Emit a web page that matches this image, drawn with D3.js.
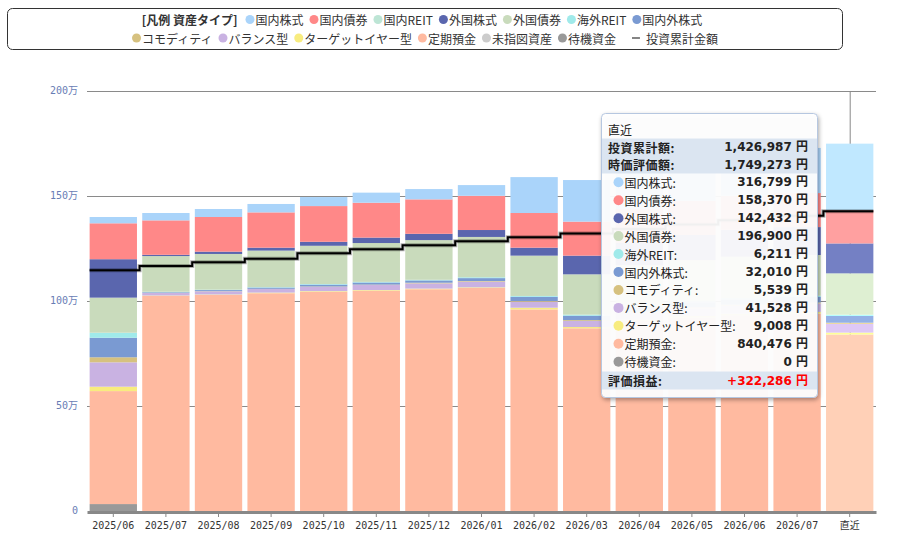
<!DOCTYPE html>
<html>
<head>
<meta charset="utf-8">
<script src="https://cdn.jsdelivr.net/npm/d3@7"></script>
<style>
body { margin: 0; background: #fff; }
svg { display: block; }
</style>
</head>
<body>
<script>
// months on the x axis
var months = ["2025/06","2025/07","2025/08","2025/09","2025/10","2025/11","2025/12",
              "2026/01","2026/02","2026/03","2026/04","2026/05","2026/06","2026/07","直近"];

// asset types (legend order, top of stack first)
var assetNames = ["国内株式","国内債券","国内REIT","外国株式","外国債券","海外REIT","国内外株式",
                  "コモディティ","バランス型","ターゲットイヤー型","定期預金","未指図資産","待機資金"];
var assetColors = ["#aad4fa","#ff8888","#bde5d5","#5a66ae","#c9dbbc","#a0eaea","#7a9ad2",
                   "#d6c17f","#c9b2e2","#f8ec7f","#ffbaa0","#cccccc","#999999"];

// values in yen, one per month
var domesticStock = [30000,35000,38000,40000,43000,48000,49000,51000,171000,198000,210000,213000,216000,215000,316799];
var domesticBond  = [171000,164000,165000,168000,170000,166000,164000,163000,165000,162000,162000,162000,162000,162000,158370];
var domesticReit  = [0,0,0,0,0,0,0,0,0,0,0,0,0,0,0];
var foreignStock  = [183000,6000,11000,14000,19000,26000,30000,33000,38000,89000,105000,120000,128000,133000,142432];
var foreignBond   = [167000,170000,170000,174000,182000,185000,189000,192000,192000,192000,195000,196000,197000,194000,196900];
var foreignReit   = [24000,2000,2000,2000,3000,3000,3000,4000,4000,5000,5000,5000,6000,6000,6211];
var globalStock   = [93000,3000,5000,6000,9000,10000,11000,14000,20000,21000,22000,24000,25000,26000,32010];
var commodity     = [24000,1000,1000,1000,2000,2000,3000,3000,3000,4000,4000,5000,5000,5000,5539];
var balanced      = [116000,12000,15000,17000,20000,24000,25000,27000,29000,29000,33000,36000,38000,40000,41528];
var targetYear    = [21000,2000,2000,3000,3000,3000,3000,3000,8000,6000,7000,7000,8000,8000,9008];
var timeDeposit   = [538000,1024000,1029000,1037000,1044000,1049000,1056000,1062000,960000,870000,905000,922000,932000,940000,840476];
var unassigned    = [0,0,0,0,0,0,0,0,0,0,0,0,0,0,0];
var standby       = [33000,0,0,0,0,0,0,0,0,0,0,0,0,0,0];

// cumulative invested amount (step line)
var invested = [1146000,1167000,1184000,1201000,1227000,1246000,1265000,1284000,1303000,1322000,1343000,1364000,1385000,1406000,1426987];

var yTicks = [0, 500000, 1000000, 1500000, 2000000];

var assetValues = [domesticStock, domesticBond, domesticReit, foreignStock, foreignBond, foreignReit,
                   globalStock, commodity, balanced, targetYear, timeDeposit, unassigned, standby];

var table = months.map(function(m, i) {
  var row = { month: m };
  assetNames.forEach(function(n, k) { row[n] = assetValues[k][i]; });
  return row;
});
var colorOf = {};
assetNames.forEach(function(n, k) { colorOf[n] = assetColors[k]; });

var width = 897, height = 533;
var svg = d3.select("body").append("svg").attr("width", width).attr("height", height);

var defs = svg.append("defs");
defs.append("filter").attr("id", "shadow").attr("x", "-10%").attr("y", "-10%").attr("width", "130%").attr("height", "130%")
  .append("feDropShadow").attr("dx", 1).attr("dy", 2).attr("stdDeviation", 2)
  .attr("flood-color", "#000").attr("flood-opacity", 0.35);

var x = d3.scaleBand().domain(months).range([87, 876]).paddingInner(0.1).paddingOuter(0.05);
var y = d3.scaleLinear().domain([0, 2000000]).range([511, 91]);

var axisFont = "'DejaVu Sans Mono','Noto Sans CJK JP',monospace";
var jpFont = "'Noto Sans CJK JP','Noto Sans',sans-serif";
var numFont = "'DejaVu Sans','Noto Sans CJK JP',sans-serif";

// grid lines + y labels
svg.append("g").selectAll("line")
  .data(yTicks.slice(1))
  .enter().append("line")
    .attr("x1", 87).attr("x2", 876)
    .attr("y1", function(d) { return y(d) + 0.5; })
    .attr("y2", function(d) { return y(d) + 0.5; })
    .attr("stroke", "#8a8a8a").attr("stroke-width", 1);

svg.append("g").selectAll("text")
  .data(yTicks)
  .enter().append("text")
    .attr("x", 78)
    .attr("y", function(d) { return y(d); })
    .attr("text-anchor", "end")
    .attr("dominant-baseline", "middle")
    .attr("font-family", axisFont)
    .attr("font-size", 10)
    .attr("fill", "#687db5")
    .text(function(d) { return d === 0 ? "0" : (d / 10000) + "万"; });

// hover crosshair on the last column
var last = months[months.length - 1];
svg.append("line")
  .attr("x1", x(last) + x.bandwidth() / 2 + 0.5).attr("x2", x(last) + x.bandwidth() / 2 + 0.5)
  .attr("y1", y(2000000)).attr("y2", y(0))
  .attr("stroke", "#888").attr("stroke-width", 1);

// stacked bars
var stack = d3.stack().keys(assetNames.slice().reverse());
var layers = stack(table);

svg.append("g").selectAll("g")
  .data(layers)
  .enter().append("g")
  .each(function(layer) {
    d3.select(this).selectAll("rect")
      .data(layer)
      .enter().append("rect")
        .attr("x", function(d) { return x(d.data.month); })
        .attr("y", function(d) { return y(d[1]); })
        .attr("width", x.bandwidth())
        .attr("height", function(d) { return Math.max(0, y(d[0]) - y(d[1])); })
        .attr("fill", function(d) {
          var c = colorOf[layer.key];
          return d.data.month === last ? d3.interpolateRgb(d3.color(c).brighter(0.22), "#fff")(0.12) : c;
        });
  });

// x axis
var xAxis = d3.axisBottom(x).tickSize(5).tickSizeOuter(0);
var gx = svg.append("g").attr("transform", "translate(0," + (y(0) + 1) + ")").call(xAxis);
gx.select(".domain").attr("stroke", "#888").attr("stroke-width", 3);
gx.selectAll(".tick line").attr("stroke", "#888");
gx.selectAll(".tick text").attr("font-family", axisFont).attr("font-size", 10)
  .attr("fill", "#333").attr("dy", "0.9em");

// invested step line
var gap = x.step() - x.bandwidth();
var linePts = months.map(function(m, i) {
  return [i === 0 ? x(m) : x(m) - gap / 2, invested[i]];
});
linePts.push([x(last) + x.bandwidth(), invested[invested.length - 1]]);
var stepLine = d3.line()
  .x(function(d) { return d[0]; })
  .y(function(d) { return y(d[1]); })
  .curve(d3.curveStepAfter);
svg.append("path").attr("d", stepLine(linePts))
  .attr("fill", "none").attr("stroke", "rgba(0,0,0,0.3)").attr("stroke-width", 4);
svg.append("path").attr("d", stepLine(linePts))
  .attr("fill", "none").attr("stroke", "#000").attr("stroke-width", 2);

// legend
var legend = svg.append("g");
legend.append("rect").attr("x", 7.5).attr("y", 8.5).attr("width", 835).attr("height", 41)
  .attr("rx", 5).attr("fill", "#fff").attr("stroke", "#333");

var legendRows = [
  { title: "[凡例 資産タイプ]", items: assetNames.slice(0, 7), y: 19.5 },
  { title: null, items: assetNames.slice(7), y: 38, line: "投資累計金額" }
];
legendRows.forEach(function(row) {
  var g = legend.append("g");
  var cx = 0;
  if (row.title) {
    var t = g.append("text").attr("x", cx).attr("y", row.y).attr("dominant-baseline", "central")
      .attr("font-family", jpFont).attr("font-size", 12).attr("font-weight", "bold").attr("fill", "#333")
      .text(row.title);
    cx += t.node().getComputedTextLength() + 8;
  }
  row.items.forEach(function(n) {
    g.append("circle").attr("cx", cx + 4.5).attr("cy", row.y).attr("r", 4.5).attr("fill", colorOf[n]);
    var t = g.append("text").attr("x", cx + 10).attr("y", row.y).attr("dominant-baseline", "central")
      .attr("font-family", jpFont).attr("font-size", 12).attr("fill", "#333").text(n);
    cx += 10 + t.node().getComputedTextLength() + 6;
  });
  if (row.line) {
    cx += 10;
    g.append("line").attr("x1", cx).attr("x2", cx + 8).attr("y1", row.y).attr("y2", row.y)
      .attr("stroke", "#333").attr("stroke-width", 1.2);
    var t = g.append("text").attr("x", cx + 14).attr("y", row.y).attr("dominant-baseline", "central")
      .attr("font-family", jpFont).attr("font-size", 12).attr("fill", "#333").text(row.line);
    cx += 14 + t.node().getComputedTextLength();
  }
  var w = cx;
  g.attr("transform", "translate(" + (425 - w / 2) + ",0)");
});

// tooltip for the last column
var li = months.length - 1;
var fmt = d3.format(",");
var total = d3.sum(assetValues, function(a) { return a[li]; });
var tipAssets = assetNames.filter(function(n, k) { return d3.max(assetValues[k]) > 0; });

var tip = svg.append("g").attr("transform", "translate(601,113)");
var tipW = 216, tipH = 284;
tip.append("rect").attr("x", 0.5).attr("y", 0.5).attr("width", tipW).attr("height", tipH).attr("rx", 4)
  .attr("fill", "rgba(255,255,255,0.93)").attr("stroke", "#b6c7e0").attr("filter", "url(#shadow)");

tip.append("text").attr("x", 7).attr("y", 16).attr("dominant-baseline", "central")
  .attr("font-family", jpFont).attr("font-size", 12).attr("fill", "#222").text(last);

tip.append("rect").attr("x", 1).attr("y", 25.5).attr("width", tipW - 1).attr("height", 35).attr("fill", "#dbe5f1");
var headRows = [["投資累計額:", invested[li]], ["時価評価額:", total]];
headRows.forEach(function(r, i) {
  var ty = 34 + i * 17.5;
  tip.append("text").attr("x", 7).attr("y", ty).attr("dominant-baseline", "central")
    .attr("font-family", jpFont).attr("font-size", 12).attr("font-weight", "bold").attr("fill", "#222")
    .attr("letter-spacing", 0.5).text(r[0]);
  tip.append("text").attr("x", 207).attr("y", ty).attr("text-anchor", "end").attr("dominant-baseline", "central")
    .attr("font-family", numFont).attr("font-size", 12).attr("font-weight", "bold").attr("fill", "#222")
    .text(fmt(r[1]) + " 円");
});

tipAssets.forEach(function(n, i) {
  var k = assetNames.indexOf(n);
  var ty = 69.3 + i * 17.94;
  tip.append("circle").attr("cx", 17.5).attr("cy", ty).attr("r", 5).attr("fill", colorOf[n]);
  tip.append("text").attr("x", 23.5).attr("y", ty).attr("dominant-baseline", "central")
    .attr("font-family", jpFont).attr("font-size", 12).attr("fill", "#222").text(n + ":");
  tip.append("text").attr("x", 207).attr("y", ty).attr("text-anchor", "end").attr("dominant-baseline", "central")
    .attr("font-family", numFont).attr("font-size", 12).attr("font-weight", "bold").attr("fill", "#222")
    .text(fmt(assetValues[k][li]) + " 円");
});

tip.append("rect").attr("x", 1).attr("y", 258.5).attr("width", tipW - 1).attr("height", 18).attr("fill", "#dbe5f1");
var profit = total - invested[li];
tip.append("text").attr("x", 7).attr("y", 267.7).attr("dominant-baseline", "central")
  .attr("font-family", jpFont).attr("font-size", 12).attr("font-weight", "bold").attr("fill", "#222")
  .attr("letter-spacing", 0.5).text("評価損益:");
tip.append("text").attr("x", 207).attr("y", 267.7).attr("text-anchor", "end").attr("dominant-baseline", "central")
  .attr("font-family", numFont).attr("font-size", 12).attr("font-weight", "bold")
  .attr("fill", profit >= 0 ? "#ff0000" : "#0000ff")
  .text((profit >= 0 ? "+" : "") + fmt(profit) + " 円");
</script>
</body>
</html>
